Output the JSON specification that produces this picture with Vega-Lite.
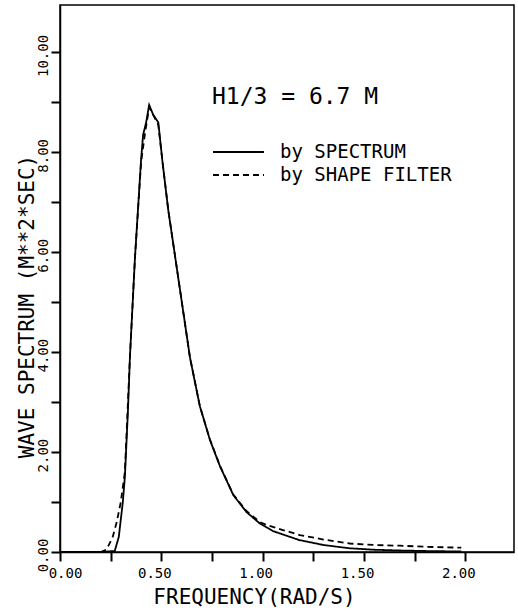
{
  "$schema": "https://vega.github.io/schema/vega-lite/v6.json",
  "width": 454,
  "height": 547,
  "autosize": {"type": "none"},
  "padding": {"left": 60, "top": 5, "right": 4, "bottom": 59},
  "background": "white",
  "config": {
    "view": {"stroke": "black", "strokeWidth": 1.5},
    "font": "DejaVu Sans Mono"
  },
  "data": {
    "values": [
      {"freq": 0.00, "spec": 0.0, "method": "by SPECTRUM"},
      {"freq": 0.20, "spec": 0.0, "method": "by SPECTRUM"},
      {"freq": 0.27, "spec": 0.02, "method": "by SPECTRUM"},
      {"freq": 0.29, "spec": 0.3, "method": "by SPECTRUM"},
      {"freq": 0.31, "spec": 1.0, "method": "by SPECTRUM"},
      {"freq": 0.32, "spec": 1.5, "method": "by SPECTRUM"},
      {"freq": 0.335, "spec": 2.8, "method": "by SPECTRUM"},
      {"freq": 0.345, "spec": 3.9, "method": "by SPECTRUM"},
      {"freq": 0.37, "spec": 5.9, "method": "by SPECTRUM"},
      {"freq": 0.40, "spec": 7.85, "method": "by SPECTRUM"},
      {"freq": 0.41, "spec": 8.35, "method": "by SPECTRUM"},
      {"freq": 0.425, "spec": 8.6, "method": "by SPECTRUM"},
      {"freq": 0.44, "spec": 8.95, "method": "by SPECTRUM"},
      {"freq": 0.46, "spec": 8.75, "method": "by SPECTRUM"},
      {"freq": 0.485, "spec": 8.6, "method": "by SPECTRUM"},
      {"freq": 0.506, "spec": 7.8, "method": "by SPECTRUM"},
      {"freq": 0.534, "spec": 6.85, "method": "by SPECTRUM"},
      {"freq": 0.583, "spec": 5.5, "method": "by SPECTRUM"},
      {"freq": 0.641, "spec": 3.9, "method": "by SPECTRUM"},
      {"freq": 0.69, "spec": 2.92, "method": "by SPECTRUM"},
      {"freq": 0.74, "spec": 2.24, "method": "by SPECTRUM"},
      {"freq": 0.79, "spec": 1.71, "method": "by SPECTRUM"},
      {"freq": 0.855, "spec": 1.14, "method": "by SPECTRUM"},
      {"freq": 0.92, "spec": 0.8, "method": "by SPECTRUM"},
      {"freq": 0.986, "spec": 0.57, "method": "by SPECTRUM"},
      {"freq": 1.05, "spec": 0.42, "method": "by SPECTRUM"},
      {"freq": 1.18, "spec": 0.24, "method": "by SPECTRUM"},
      {"freq": 1.30, "spec": 0.14, "method": "by SPECTRUM"},
      {"freq": 1.43, "spec": 0.074, "method": "by SPECTRUM"},
      {"freq": 1.55, "spec": 0.045, "method": "by SPECTRUM"},
      {"freq": 1.68, "spec": 0.03, "method": "by SPECTRUM"},
      {"freq": 1.80, "spec": 0.02, "method": "by SPECTRUM"},
      {"freq": 1.98, "spec": 0.01, "method": "by SPECTRUM"},
      {"freq": 0.20, "spec": 0.0, "method": "by SHAPE FILTER"},
      {"freq": 0.23, "spec": 0.05, "method": "by SHAPE FILTER"},
      {"freq": 0.26, "spec": 0.3, "method": "by SHAPE FILTER"},
      {"freq": 0.28, "spec": 0.6, "method": "by SHAPE FILTER"},
      {"freq": 0.30, "spec": 1.0, "method": "by SHAPE FILTER"},
      {"freq": 0.32, "spec": 1.6, "method": "by SHAPE FILTER"},
      {"freq": 0.345, "spec": 3.9, "method": "by SHAPE FILTER"},
      {"freq": 0.37, "spec": 5.9, "method": "by SHAPE FILTER"},
      {"freq": 0.40, "spec": 7.8, "method": "by SHAPE FILTER"},
      {"freq": 0.42, "spec": 8.4, "method": "by SHAPE FILTER"},
      {"freq": 0.44, "spec": 8.9, "method": "by SHAPE FILTER"},
      {"freq": 0.46, "spec": 8.75, "method": "by SHAPE FILTER"},
      {"freq": 0.485, "spec": 8.55, "method": "by SHAPE FILTER"},
      {"freq": 0.506, "spec": 7.8, "method": "by SHAPE FILTER"},
      {"freq": 0.534, "spec": 6.85, "method": "by SHAPE FILTER"},
      {"freq": 0.583, "spec": 5.5, "method": "by SHAPE FILTER"},
      {"freq": 0.641, "spec": 3.9, "method": "by SHAPE FILTER"},
      {"freq": 0.69, "spec": 2.92, "method": "by SHAPE FILTER"},
      {"freq": 0.74, "spec": 2.25, "method": "by SHAPE FILTER"},
      {"freq": 0.79, "spec": 1.72, "method": "by SHAPE FILTER"},
      {"freq": 0.855, "spec": 1.15, "method": "by SHAPE FILTER"},
      {"freq": 0.92, "spec": 0.82, "method": "by SHAPE FILTER"},
      {"freq": 0.986, "spec": 0.6, "method": "by SHAPE FILTER"},
      {"freq": 1.02, "spec": 0.54, "method": "by SHAPE FILTER"},
      {"freq": 1.10, "spec": 0.44, "method": "by SHAPE FILTER"},
      {"freq": 1.183, "spec": 0.34, "method": "by SHAPE FILTER"},
      {"freq": 1.30, "spec": 0.25, "method": "by SHAPE FILTER"},
      {"freq": 1.43, "spec": 0.17, "method": "by SHAPE FILTER"},
      {"freq": 1.55, "spec": 0.14, "method": "by SHAPE FILTER"},
      {"freq": 1.677, "spec": 0.126, "method": "by SHAPE FILTER"},
      {"freq": 1.80, "spec": 0.105, "method": "by SHAPE FILTER"},
      {"freq": 1.98, "spec": 0.086, "method": "by SHAPE FILTER"}
    ]
  },
  "mark": {"type": "line", "color": "black", "strokeWidth": 1.8, "clip": true},
  "encoding": {
    "x": {
      "field": "freq",
      "type": "quantitative",
      "scale": {"domain": [0, 2.24], "nice": false, "zero": false},
      "axis": {
        "values": [0, 0.25, 0.5, 0.75, 1, 1.25, 1.5, 1.75, 2],
        "labelExpr": "datum.value % 0.5 == 0 ? format(datum.value, '.2f') : ''",
        "title": "FREQUENCY(RAD/S)",
        "grid": false,
        "ticks": true,
        "tickColor": "black",
        "tickSize": 9,
        "tickWidth": 2,
        "domainColor": "black",
        "domainWidth": 1.5,
        "labelFont": "DejaVu Sans Mono",
        "labelFontSize": 14,
        "labelColor": "black",
        "labelPadding": 5,
        "labelFlush": false,
        "labelOverlap": false,
        "labelOffset": {"condition": {"test": "datum.value == 0", "value": 5}, "value": -7},
        "titleFont": "DejaVu Sans Mono",
        "titleFontSize": 21,
        "titleFontWeight": "normal",
        "titleColor": "black",
        "titleX": 194,
        "titleY": 51,
        "titleAlign": "center",
        "titleBaseline": "alphabetic"
      }
    },
    "y": {
      "field": "spec",
      "type": "quantitative",
      "scale": {"domain": [0, 10.95], "nice": false, "zero": false},
      "axis": {
        "values": [0, 1, 2, 3, 4, 5, 6, 7, 8, 9, 10],
        "labelExpr": "datum.value % 2 == 0 ? format(datum.value, '.2f') : ''",
        "title": "WAVE SPECTRUM (M**2*SEC)",
        "grid": false,
        "ticks": true,
        "tickColor": "black",
        "tickSize": 9,
        "tickWidth": 2,
        "domainColor": "black",
        "domainWidth": 1.5,
        "labelFont": "DejaVu Sans Mono",
        "labelFontSize": 14,
        "labelColor": "black",
        "labelAngle": 270,
        "labelPadding": 1,
        "labelOffset": 3,
        "labelFlush": false,
        "labelOverlap": false,
        "titleFont": "DejaVu Sans Mono",
        "titleFontSize": 21,
        "titleFontWeight": "normal",
        "titleColor": "black",
        "titleX": -33,
        "titleY": 301,
        "titleAngle": 270,
        "titleAlign": "center",
        "titleBaseline": "middle"
      }
    },
    "strokeDash": {
      "field": "method",
      "type": "nominal",
      "scale": {"domain": ["by SPECTRUM", "by SHAPE FILTER"], "range": [[1, 0], [6, 4]]},
      "legend": {
        "orient": "none",
        "legendX": 152,
        "legendY": 81,
        "padding": 0,
        "title": "H1/3 = 6.7 M",
        "titleFont": "DejaVu Sans Mono",
        "titleFontSize": 23,
        "titleFontWeight": "normal",
        "titleColor": "black",
        "titlePadding": 32,
        "labelFont": "DejaVu Sans Mono",
        "labelFontSize": 19,
        "labelColor": "black",
        "labelOffset": 46,
        "rowPadding": 2,
        "symbolType": "M-1,0H4.1",
        "symbolSize": 400,
        "symbolStrokeWidth": 1.8,
        "symbolStrokeColor": "black",
        "symbolFillColor": "transparent",
        "labelLimit": 400
      }
    }
  }
}
